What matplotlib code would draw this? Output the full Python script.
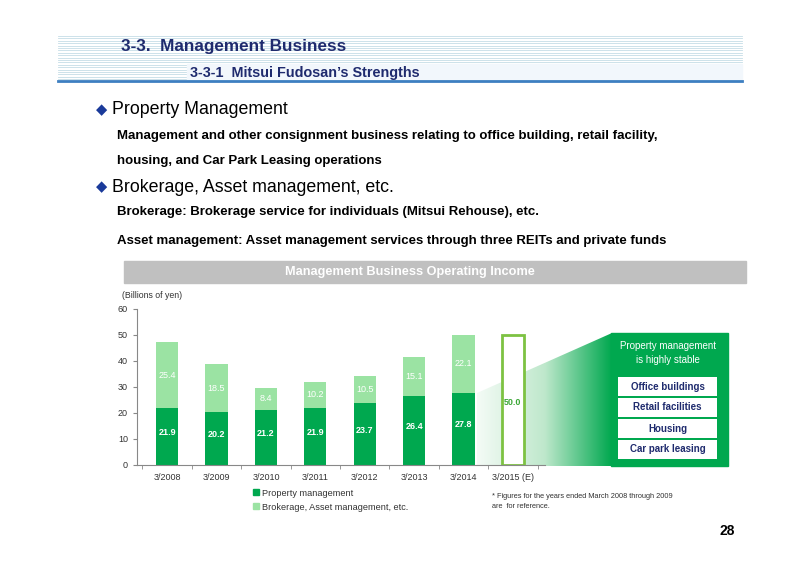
import matplotlib
matplotlib.use("Agg")
import matplotlib.pyplot as plt
import numpy as np
from matplotlib.patches import Polygon, Rectangle
from matplotlib.colors import LinearSegmentedColormap

plt.rcParams['font.family'] = ['Liberation Sans', 'DejaVu Sans']

categories = ["3/2008", "3/2009", "3/2010", "3/2011", "3/2012", "3/2013", "3/2014", "3/2015 (E)"]
property_mgmt = [21.9, 20.2, 21.2, 21.9, 23.7, 26.4, 27.8]
brokerage = [25.4, 18.5, 8.4, 10.2, 10.5, 15.1, 22.1]
forecast_total = 50.0
segments = ["Office buildings", "Retail facilities", "Housing", "Car park leasing"]

DARK = "#00A84F"
LIGHT = "#9BE3A3"
NAVY = "#1F2B6E"
W, H = 800, 566

fig = plt.figure(figsize=(8, 5.66), dpi=100)
bg = fig.add_axes([0, 0, 1, 1], zorder=0)
bg.set_xlim(0, W); bg.set_ylim(H, 0); bg.axis('off')

# header stripes
for y in np.arange(36, 80, 2.4):
    bg.plot([58, 742], [y, y], color="#c5dde6", lw=0.6)
bg.add_patch(Rectangle((187, 64), 555, 16, color="#f2f7fc", zorder=2))
bg.plot([58, 742], [81, 81], color="#3d7fc1", lw=2)
bg.text(121, 46, "3-3.  Management Business", fontsize=12.3, fontweight='bold', color=NAVY, va='center')
bg.text(190, 73, "3-3-1  Mitsui Fudosan\u2019s Strengths", fontsize=10.4, fontweight='bold', color=NAVY, va='center', zorder=3)

# bullets
for y, t in [(110, "Property Management"), (187, "Brokerage, Asset management, etc.")]:
    bg.text(96, y, "\u25C6", fontsize=10.5, color="#1a3a9a", va='center', family=['DejaVu Sans'])
    bg.text(112, y, t, fontsize=12.8, color="black", va='center')
for y, t in [(136, "Management and other consignment business relating to office building, retail facility,"),
             (161, "housing, and Car Park Leasing operations"),
             (212, "Brokerage: Brokerage service for individuals (Mitsui Rehouse), etc."),
             (241, "Asset management: Asset management services through three REITs and private funds")]:
    bg.text(117, y, t, fontsize=9.5, fontweight='bold', color="black", va='center')

bg.add_patch(Rectangle((124, 261), 622, 22, color="#c0c0c0"))
bg.text(410, 272, "Management Business Operating Income", fontsize=9.2, fontweight='bold', color='white', ha='center', va='center')

# gradient wedge
grad = np.linspace(0, 1, 256)[None, :]
cmap = LinearSegmentedColormap.from_list("g", ["#f4fbf6", "#bfe8cc", DARK])
im = bg.imshow(grad, extent=(477, 612, 466, 333), cmap=cmap, aspect='auto', zorder=1)
poly = Polygon([(477, 393), (612, 333), (612, 466), (477, 466)], closed=True, transform=bg.transData)
im.set_clip_path(poly)
bg.add_patch(Rectangle((611, 333), 117, 133, color=DARK, zorder=1))
bg.text(668, 346, "Property management", fontsize=7, color='white', ha='center', va='center')
bg.text(668, 360, "is highly stable", fontsize=7, color='white', ha='center', va='center')
for i, s in enumerate(segments):
    y0 = 377 + i * 21
    bg.add_patch(Rectangle((618, y0), 99, 19, facecolor='white', edgecolor='none', zorder=2))
    bg.text(667.5, y0 + 9.5, s, fontsize=7, fontweight='bold', color=NAVY, ha='center', va='center', zorder=3)

bg.text(492, 497, "* Figures for the years ended March 2008 through 2009", fontsize=5.3, color='#333333', va='center')
bg.text(492, 507, "are  for reference.", fontsize=5.3, color='#333333', va='center')
bg.text(720, 531, "28", fontsize=10, fontweight='bold', color='black', va='center')

# legend
bg.add_patch(Rectangle((253, 489), 6, 6, color=DARK))
bg.text(262, 493, "Property management", fontsize=6.6, color='#333333', va='center')
bg.add_patch(Rectangle((253, 503), 6, 6, color=LIGHT))
bg.text(262, 507, "Brokerage, Asset management, etc.", fontsize=6.6, color='#333333', va='center')
bg.text(122, 296, "(Billions of yen)", fontsize=6.3, color='#333333', va='center')

# chart axes
ax = fig.add_axes([137 / W, 1 - 465 / H, (545 - 137) / W, (465 - 309) / H], zorder=1)
ax.patch.set_alpha(0)
x = np.arange(len(property_mgmt))
bw = 0.45
ax.bar(x, property_mgmt, bw, color=DARK)
ax.bar(x, brokerage, bw, bottom=property_mgmt, color=LIGHT)
ax.bar(len(property_mgmt), forecast_total, bw, facecolor='white', edgecolor="#7DC242", linewidth=2)
for xi, p, b in zip(x, property_mgmt, brokerage):
    ax.text(xi, p / 2 + 1.5, f"{p:.1f}", ha='center', va='center', color='white', fontsize=6.5, fontweight='bold')
    ax.text(xi, p + b / 2, f"{b:.1f}", ha='center', va='center', color='white', fontsize=6.5)
ax.text(len(property_mgmt), 24, f"{forecast_total:.1f}", ha='center', va='center', color='#3aa635', fontsize=6.5, fontweight='bold')
ax.set_xlim(-0.61, 7.65)
ax.set_ylim(0, 60)
ax.set_yticks(range(0, 61, 10))
ax.set_xticks(np.arange(-0.5, 8, 1), minor=True)
ax.set_xticks(np.arange(8))
ax.set_xticklabels(categories)
ax.tick_params(axis='x', which='major', length=0, labelsize=6.5, pad=6, colors='#333333')
ax.tick_params(axis='x', which='minor', length=3, color='#888888')
ax.tick_params(axis='y', labelsize=6.5, length=3, color='#888888', colors='#333333')
for s in ['top', 'right']:
    ax.spines[s].set_visible(False)
ax.spines['left'].set_color('#888888')
ax.spines['bottom'].set_color('#888888')

fig.savefig("out.png", dpi=100)
